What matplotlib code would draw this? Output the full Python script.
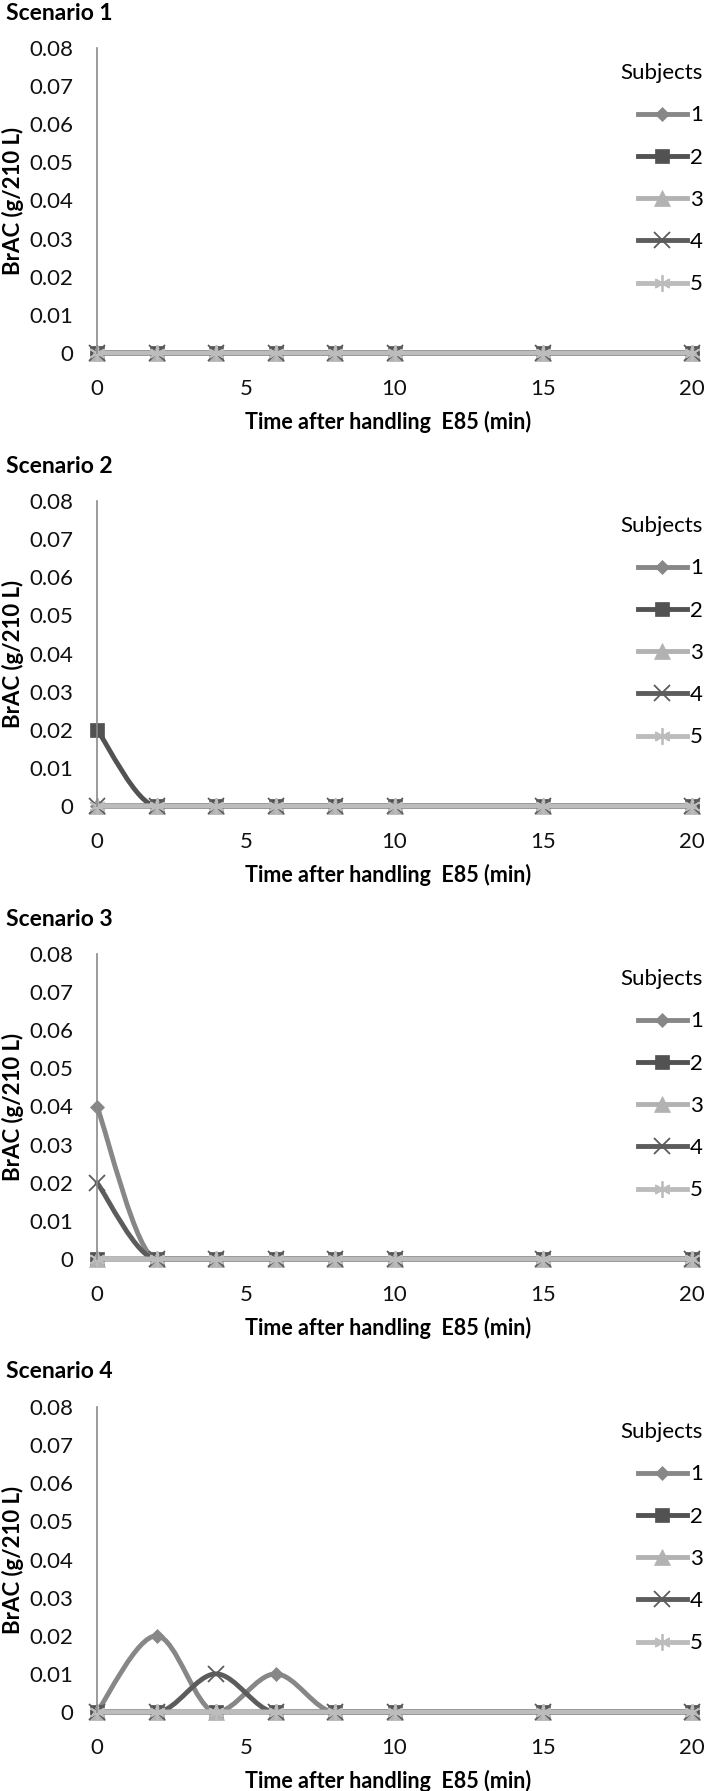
import numpy as np
import matplotlib
matplotlib.use("Agg")
import matplotlib.pyplot as plt
from matplotlib.path import Path
from matplotlib.patches import PathPatch
from matplotlib.lines import Line2D

plt.rcParams['font.family'] = ['Lato', 'DejaVu Sans']

# data (BrAC in g/210 L)
times = [0, 2, 4, 6, 8, 10, 15, 20]
subjects = ['1', '2', '3', '4', '5']

scenario1 = [
    [0, 0, 0, 0, 0, 0, 0, 0],
    [0, 0, 0, 0, 0, 0, 0, 0],
    [0, 0, 0, 0, 0, 0, 0, 0],
    [0, 0, 0, 0, 0, 0, 0, 0],
    [0, 0, 0, 0, 0, 0, 0, 0],
]
scenario2 = [
    [0, 0, 0, 0, 0, 0, 0, 0],
    [0.02, 0, 0, 0, 0, 0, 0, 0],
    [0, 0, 0, 0, 0, 0, 0, 0],
    [0, 0, 0, 0, 0, 0, 0, 0],
    [0, 0, 0, 0, 0, 0, 0, 0],
]
scenario3 = [
    [0.04, 0, 0, 0, 0, 0, 0, 0],
    [0, 0, 0, 0, 0, 0, 0, 0],
    [0, 0, 0, 0, 0, 0, 0, 0],
    [0.02, 0, 0, 0, 0, 0, 0, 0],
    [0, 0, 0, 0, 0, 0, 0, 0],
]
scenario4 = [
    [0, 0.02, 0, 0.01, 0, 0, 0, 0],
    [0, 0, 0, 0, 0, 0, 0, 0],
    [0, 0, 0, 0, 0, 0, 0, 0],
    [0, 0, 0.01, 0, 0, 0, 0, 0],
    [0, 0, 0, 0, 0, 0, 0, 0],
]
scenarios = [scenario1, scenario2, scenario3, scenario4]
titles = ['Scenario 1', 'Scenario 2', 'Scenario 3', 'Scenario 4']

yticks = [0, 0.01, 0.02, 0.03, 0.04, 0.05, 0.06, 0.07, 0.08]
ytick_labels = ['0', '0.01', '0.02', '0.03', '0.04', '0.05', '0.06', '0.07', '0.08']
xticks = [0, 5, 10, 15, 20]

# styles (excel greyscale)
colors = ['#878787', '#525252', '#b2b2b2', '#5c5c5c', '#bcbcbc']
markers = ['D', 's', '^', 'x', (6, 2, 0)]
msizes = [7, 10, 11, 12, 12]
mews = [0.5, 0.5, 0.5, 1.3, 1.3]


def smooth_path(x, y):
    # excel-like smoothed line: cubic bezier with 1/6 tangents,
    # flattened at local extrema so nothing dips under zero
    pts = np.column_stack([x, y]).astype(float)
    n = len(pts)
    tang = np.zeros_like(pts)
    for i in range(n):
        a = pts[max(i - 1, 0)]
        b = pts[min(i + 1, n - 1)]
        t = (b - a) / 6
        if 0 < i < n - 1 and (pts[i, 1] - a[1]) * (b[1] - pts[i, 1]) <= 0:
            t[1] = 0
        tang[i] = t
    verts = [pts[0]]
    codes = [Path.MOVETO]
    for i in range(n - 1):
        verts += [pts[i] + tang[i], pts[i + 1] - tang[i + 1], pts[i + 1]]
        codes += [Path.CURVE4] * 3
    return Path(verts, codes)


W, H = 708, 1791
left_px, right_px = 97, 692
top0, zero0, step = 48, 353, 453
ax_w = right_px - left_px

fig = plt.figure(figsize=(W / 100, H / 100), dpi=100)

for k, data in enumerate(scenarios):
    top = top0 + k * step
    bottom = zero0 + k * step
    ax_h = bottom - top
    ax = fig.add_axes([left_px / W, 1 - bottom / H, ax_w / W, ax_h / H])

    for i, vals in enumerate(data):
        z = 2 + i * 0.1
        patch = PathPatch(smooth_path(times, vals), facecolor='none',
                          edgecolor=colors[i], lw=3.5, capstyle='round',
                          joinstyle='round', clip_on=False, zorder=z)
        ax.add_patch(patch)
        ax.plot(times, vals, linestyle='none', marker=markers[i],
                markersize=msizes[i], color=colors[i], mfc=colors[i],
                mec=colors[i], mew=mews[i], clip_on=False, zorder=z + 0.05)

    ax.set_xlim(0, 20)
    ax.set_ylim(0, 0.08)
    ax.set_xticks(xticks)
    ax.set_yticks(yticks)
    ax.set_yticklabels(ytick_labels)
    ax.tick_params(axis='both', length=0, labelsize=16, labelcolor='#111111')
    ax.tick_params(axis='y', pad=17)
    ax.tick_params(axis='x', pad=19)

    for side in ['top', 'right', 'bottom']:
        ax.spines[side].set_visible(False)
    ax.spines['left'].set_color('#8a8a8a')
    ax.spines['left'].set_linewidth(1.2)

    ax.set_xlabel('Time after handling  E85 (min)', fontsize=15.5,
                  fontweight='bold')
    ax.xaxis.set_label_coords(0.489, -69 / ax_h)
    ax.xaxis.label.set_va('center')
    ax.set_ylabel('BrAC (g/210 L)', fontsize=16, fontweight='bold')
    ax.yaxis.set_label_coords(-84 / ax_w, 0.5)
    ax.yaxis.label.set_va('center')

    ax.text(-(left_px - 6) / ax_w, 1 + 35 / ax_h, titles[k], transform=ax.transAxes,
            fontsize=16.5, fontweight='bold', ha='left', va='center')

    handles = [Line2D([], [], color=colors[i], lw=3.5, marker=markers[i],
                      markersize=msizes[i], mfc=colors[i], mec=colors[i],
                      mew=mews[i])
               for i in range(len(subjects))]
    ax.legend(handles, subjects, title='Subjects', frameon=False,
              loc='upper right', bbox_to_anchor=(1.018, 0.95),
              alignment='right', fontsize=16, title_fontsize=16,
              handlelength=2.2, handletextpad=0.15, labelspacing=1.0,
              borderpad=0, borderaxespad=0)

fig.savefig('out.png', dpi=100)
